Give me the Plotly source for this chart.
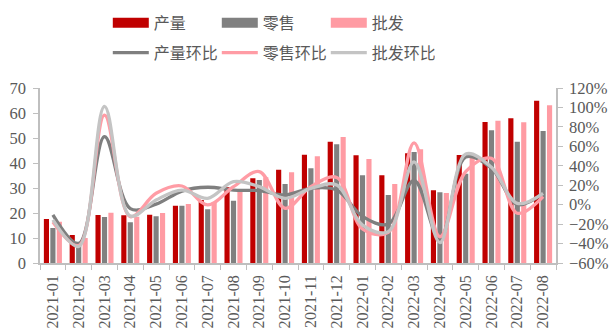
import plotly.graph_objects as go

months = ["2021-01", "2021-02", "2021-03", "2021-04", "2021-05", "2021-06", "2021-07",
          "2021-08", "2021-09", "2021-10", "2021-11", "2021-12", "2022-01", "2022-02",
          "2022-03", "2022-04", "2022-05", "2022-06", "2022-07", "2022-08"]

# volumes (left axis)
production = [17.6, 11.2, 19.2, 19.1, 19.3, 22.9, 25.2, 30.3, 33.9, 37.3,
              43.3, 48.5, 43.1, 35.1, 43.9, 29.1, 43.2, 56.4, 57.9, 64.9]
retail = [14.0, 8.5, 18.4, 16.3, 18.7, 22.9, 21.5, 24.9, 33.2, 31.6,
          37.9, 47.5, 35.1, 27.2, 44.4, 28.3, 35.7, 53.1, 48.5, 52.8]
wholesale = [16.5, 10.0, 20.1, 18.5, 20.0, 23.6, 24.3, 28.5, 34.3, 36.3,
             42.7, 50.4, 41.6, 31.6, 45.5, 28.0, 43.0, 56.9, 56.3, 63.1]

# month-on-month change, % (right axis)
production_mom = [-10.6, -40.0, 70.0, -4.0, 0.5, 14.0, 17.9, 15.0, 14.4, 10.0,
                  16.8, 15.0, -12.0, -20.0, 25.0, -36.0, 49.0, 37.5, 0.0, 11.7]
retail_mom = [-17.8, -42.0, 92.0, -12.3, 11.7, 19.2, -0.3, 18.5, 34.0, -3.7,
              18.5, 28.0, -25.0, -28.5, 63.5, -33.0, 34.0, 47.7, -8.8, 8.3]
wholesale_mom = [-15.7, -43.0, 101.0, -11.6, 4.8, 15.0, 6.5, 23.7, 18.5, 6.5,
                 16.8, 20.2, -21.0, -27.7, 44.0, -39.0, 52.0, 38.5, 1.4, 11.7]

bar_colors = {"产量": "#C00000", "零售": "#808080", "批发": "#FF9BA3"}
line_colors = {"产量环比": "#7F7F7F", "零售环比": "#FF9CA5", "批发环比": "#C4C4C4"}

serif = "Liberation Serif, Times New Roman, serif"
axis_font = dict(family=serif, size=16.5, color="#595959")
xaxis_font = dict(family=serif, size=16, color="#595959")
legend_font = dict(family="Noto Sans CJK SC, sans-serif", size=16, color="#595959")

fig = go.Figure()

for name, vals in [("产量", production), ("零售", retail), ("批发", wholesale)]:
    fig.add_trace(go.Bar(x=months, y=vals, name=name, marker_color=bar_colors[name],
                         marker_line_width=0, showlegend=False, legendgroup=name))
    # wide legend swatch for the bar series
    fig.add_trace(go.Scatter(x=[None], y=[None], mode="lines", name=name,
                             line=dict(color=bar_colors[name], width=10),
                             legendgroup=name, legend="legend"))

for name, vals in [("产量环比", production_mom), ("零售环比", retail_mom), ("批发环比", wholesale_mom)]:
    fig.add_trace(go.Scatter(x=months, y=vals, name=name, yaxis="y2", mode="lines",
                             line=dict(color=line_colors[name], width=3.3, shape="spline", smoothing=1.0),
                             legend="legend2"))

legend_common = dict(orientation="h", x=0.177, yref="container", xref="container",
                     yanchor="top", xanchor="left", itemwidth=36,
                     entrywidth=58, entrywidthmode="pixels", font=legend_font,
                     bgcolor="rgba(0,0,0,0)", traceorder="normal")

fig.update_layout(
    width=609, height=331,
    margin=dict(l=40, r=53, t=88, b=68),
    paper_bgcolor="white", plot_bgcolor="white",
    barmode="group", bargap=0.25, bargroupgap=0.2,
    showlegend=True,
    legend=dict(legend_common, y=0.982),
    legend2=dict(legend_common, y=0.892),
    xaxis=dict(type="category", tickangle=-90, tickfont=xaxis_font, showgrid=False,
               automargin=False, ticklabelstandoff=4,
               showline=True, linecolor="#BFBFBF", linewidth=1.5,
               ticks="outside", tickson="boundaries", ticklen=5, tickcolor="#BFBFBF"),
    yaxis=dict(range=[0, 70], dtick=10, tickfont=axis_font, showgrid=False, zeroline=False,
               automargin=False, ticklabelstandoff=4,
               showline=True, linecolor="#BFBFBF", linewidth=1.5,
               ticks="outside", ticklen=5, tickcolor="#BFBFBF"),
    yaxis2=dict(range=[-60, 120], dtick=20, ticksuffix="%", overlaying="y", side="right",
                tickfont=axis_font, showgrid=False, zeroline=False, automargin=False,
                ticklabelstandoff=3,
                showline=True, linecolor="#BFBFBF", linewidth=1.5,
                ticks="outside", ticklen=5, tickcolor="#BFBFBF"),
)

fig.write_html("out.html")
